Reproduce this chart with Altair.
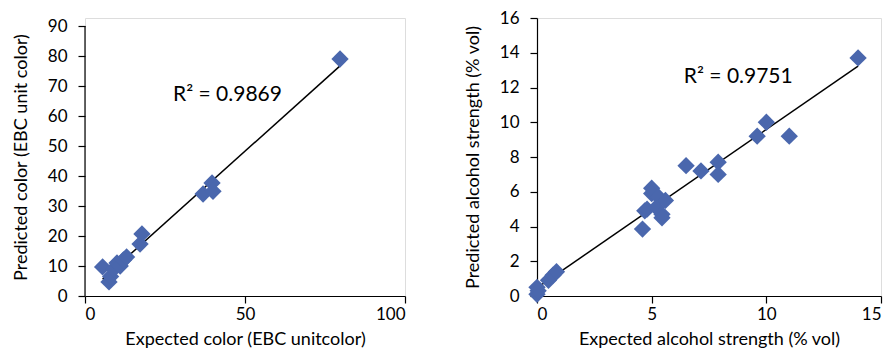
import altair as alt
import pandas as pd

# Left panel: colour (EBC)
color_expected = [5.5, 7.5, 8.0, 9.0, 10.0, 11.0, 12.0, 13.0, 17.2, 17.8, 36.9, 39.7, 40.0, 79.7]
color_predicted = [9.7, 4.7, 6.5, 9.0, 11.0, 10.0, 12.0, 13.0, 17.3, 20.7, 34.0, 37.7, 34.9, 79.0]

# Right panel: alcohol strength (% vol)
alc_expected = [0.0, 0.0, 0.05, 0.5, 0.7, 0.85, 4.6, 4.7, 4.8, 5.0, 5.0, 5.2, 5.3,
                5.45, 5.45, 5.6, 6.5, 7.15, 7.9, 7.9, 9.6, 10.0, 11.0, 14.0]
alc_predicted = [0.1, 0.5, 0.3, 0.9, 1.2, 1.4, 3.85, 4.9, 5.0, 6.2, 5.9, 5.1, 5.7,
                 4.7, 4.5, 5.5, 7.5, 7.2, 7.7, 7.0, 9.2, 10.0, 9.2, 13.7]

FONT = "Lato"
BLUE = "#4A67AD"

axis_common = dict(grid=False, domainColor="black", tickColor="black", tickSize=7,
                   labelFont=FONT, titleFont=FONT, labelFontSize=17, titleFontSize=18,
                   labelColor="black", titleColor="black", titleFontWeight="normal",
                   domainWidth=1.2, tickWidth=1.2)


def panel(xs, ys, xdom, ydom, xticks, yticks, xtitle, ytitle, label, lx, ly,
          width, height, ydomain_line, ytop):
    df = pd.DataFrame({"x": xs, "y": ys})
    X = alt.X("x:Q", scale=alt.Scale(domain=xdom, nice=False, zero=False),
              axis=alt.Axis(values=xticks, title=xtitle, titlePadding=8, labelPadding=3, **axis_common))
    Y = alt.Y("y:Q", scale=alt.Scale(domain=ydom, nice=False, zero=False),
              axis=alt.Axis(values=yticks, title=ytitle, titlePadding=17, labelPadding=11,
                            domain=ydomain_line, **axis_common))
    pts = alt.Chart(df).mark_point(shape="diamond", filled=True, size=300, color=BLUE,
                                   opacity=1).encode(x=X, y=Y)
    line = alt.Chart(df).transform_regression("x", "y").mark_line(
        color="black", strokeWidth=1.5).encode(x=X, y=Y)
    txt = alt.Chart(pd.DataFrame({"x": [lx], "y": [ly], "t": [label]})).mark_text(
        align="left", baseline="middle", fontSize=21, font=FONT, color="black").encode(
        x=X, y=Y, text="t:N")
    layers = [line, pts, txt]
    if not ydomain_line:
        rule = alt.Chart(pd.DataFrame({"x": [xdom[0]], "y": [ydom[0]], "y2": [ytop]})).mark_rule(
            color="black", strokeWidth=1.2).encode(x=X, y=Y, y2="y2:Q")
        layers.append(rule)
    return alt.layer(*layers).properties(width=width, height=height)


left = panel(color_expected, color_predicted, [0, 100], [0, 92.67],
             [0, 50, 100], [0, 10, 20, 30, 40, 50, 60, 70, 80, 90],
             "Expected color (EBC unitcolor)", "Predicted color (EBC unit color)",
             "R² = 0.9869", 27.5, 67, 320, 278, False, 90)

right = panel(alc_expected, alc_predicted, [0, 15], [0, 16],
              [0, 5, 10, 15], [0, 2, 4, 6, 8, 10, 12, 14, 16],
              "Expected alcohol strength (% vol)", "Predicted alcohol strength (% vol)",
              "R² = 0.9751", 6.4, 12.6, 344, 278, True, 16)

chart = alt.hconcat(left, right, spacing=56).configure_view(stroke=None).configure(
    font=FONT, background="white").properties(
    padding={"left": 3, "top": 0, "right": 0, "bottom": 0})

chart.save("out.html", embed_options={"renderer": "svg", "actions": False})
